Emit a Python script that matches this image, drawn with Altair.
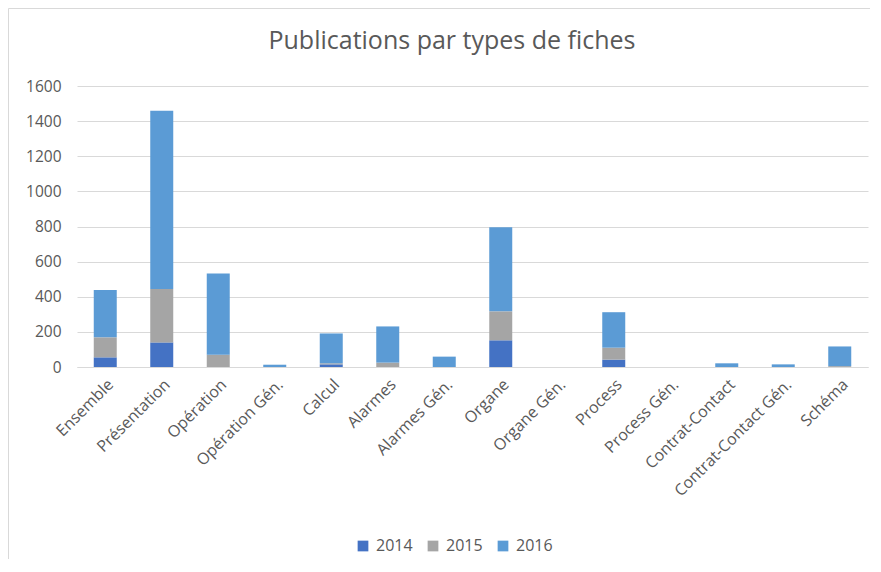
import altair as alt
import pandas as pd

categories = ["Ensemble", "Présentation", "Opération", "Opération Gén.", "Calcul",
              "Alarmes", "Alarmes Gén.", "Organe", "Organe Gén.", "Process",
              "Process Gén.", "Contrat-Contact", "Contrat-Contact Gén.", "Schéma"]
years = ["2014", "2015", "2016"]
v2014 = [55, 140, 0, 0, 15, 0, 0, 152, 0, 42, 0, 0, 0, 0]
v2015 = [114, 304, 70, 0, 6, 25, 0, 165, 0, 68, 0, 0, 0, 5]
v2016 = [269, 1015, 463, 13, 170, 206, 59, 479, 0, 202, 0, 21, 15, 112]
colors = ["#4472C4", "#A5A5A5", "#5B9BD5"]
y_ticks = [0, 200, 400, 600, 800, 1000, 1200, 1400, 1600]
title_text = "Publications par types de fiches"

rows = []
for yi, (yr, vals) in enumerate(zip(years, [v2014, v2015, v2016])):
    for c, v in zip(categories, vals):
        rows.append({"cat": c, "year": yr, "order": yi, "value": v})
df = pd.DataFrame(rows)

FONT = "Open Sans"
GREY = "#595959"
W, H = 791, 281

bars = alt.Chart(df).mark_bar().encode(
    x=alt.X("cat:N", sort=categories, title=None,
            scale=alt.Scale(paddingInner=0.593, paddingOuter=0.2965),
            axis=alt.Axis(labelAngle=-45, ticks=False, domainColor="#D9D9D9",
                          labelColor=GREY, labelFontSize=16, labelFont=FONT,
                          labelPadding=9)),
    y=alt.Y("value:Q", stack="zero", title=None,
            scale=alt.Scale(domain=[0, 1600], nice=False),
            axis=alt.Axis(values=y_ticks, format="d", domain=False, ticks=False,
                          gridColor="#D9D9D9", labelColor=GREY, labelFontSize=15.5,
                          labelFont=FONT, labelPadding=16)),
    color=alt.Color("year:N", scale=alt.Scale(domain=years, range=colors),
                    legend=alt.Legend(orient="none", legendX=278, legendY=452,
                                      direction="horizontal", title=None,
                                      symbolType="square", symbolSize=115,
                                      symbolStrokeWidth=0, labelFontSize=16,
                                      labelFont=FONT, labelColor=GREY,
                                      columnPadding=12, labelOffset=5)),
    order=alt.Order("order:Q", sort="ascending"),
)

single = pd.DataFrame({"t": [title_text]})
title = alt.Chart(single).mark_text(fontSize=25, font=FONT, color=GREY,
                                    align="center", baseline="alphabetic").encode(
    text="t:N", x=alt.value(375), y=alt.value(-37))
top_line = alt.Chart(single).mark_rule(color="#D9D9D9", strokeWidth=1).encode(
    x=alt.value(-68.5), x2=alt.value(W + 2), y=alt.value(-77.5))
left_line = alt.Chart(single).mark_rule(color="#D9D9D9", strokeWidth=1).encode(
    x=alt.value(-68.5), y=alt.value(-77.5), y2=alt.value(H + 192))

chart = alt.layer(bars, title, top_line, left_line).properties(
    width=W, height=H,
    autosize=alt.AutoSizeParams(type="none"),
    padding={"left": 69, "top": 78, "right": 2, "bottom": 192},
).configure_view(stroke=None)

chart.save("out.html", embed_options={"renderer": "svg", "actions": False})
